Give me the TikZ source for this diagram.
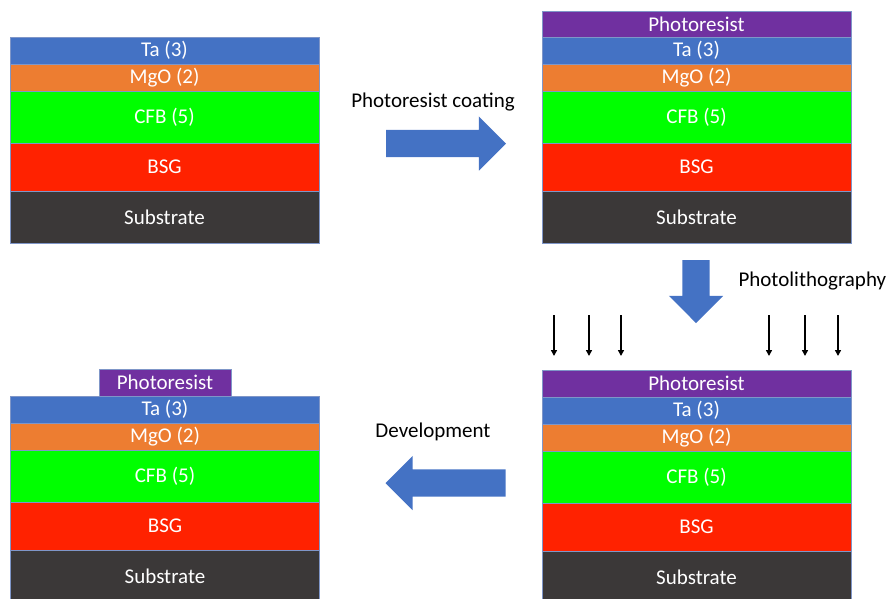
\documentclass[tikz,border=0pt]{standalone}
\usepackage{fontspec}
\setmainfont{Carlito}
\usetikzlibrary{positioning,shapes.arrows,arrows.meta}
\definecolor{taBlue}{HTML}{4472C4}
\definecolor{mgoOrange}{HTML}{ED7D31}
\definecolor{cfbGreen}{HTML}{00FF00}
\definecolor{bsgRed}{HTML}{FF2200}
\definecolor{subGray}{HTML}{3B3838}
\definecolor{resistPurple}{HTML}{7030A0}
\definecolor{layerEdge}{HTML}{7F96C8}

\begin{document}
\begin{tikzpicture}[
    x=1pt, y=-1pt,
    font=\fontsize{21}{25}\selectfont,
    node distance=0pt,
    layer/.style={draw=layerEdge, line width=0.6pt, rectangle, minimum width=309pt, inner sep=0pt, outer sep=0pt, text=white},
    ta/.style={layer, fill=taBlue, minimum height=27pt},
    mgo/.style={layer, fill=mgoOrange, minimum height=27pt},
    cfb/.style={layer, fill=cfbGreen, minimum height=52pt},
    bsg/.style={layer, fill=bsgRed, minimum height=48pt},
    sub/.style={layer, fill=subGray, minimum height=52pt},
    resist/.style={layer, fill=resistPurple, minimum height=26pt},
    blockarrow/.style={single arrow, fill=taBlue, draw=none, inner sep=13.5pt, outer sep=0pt, single arrow head extend=13.5pt, minimum height=120pt, anchor=tail},
    ray/.style={-{Triangle[width=6pt,length=6pt]}, line width=1.6pt}
]
    \clip (0,0) rectangle (892,598);
    \useasboundingbox (0,0) rectangle (892,598);

    % as deposited
    \node[ta, anchor=north] (ta1) at (164.5,37) {Ta (3)};
    \node[mgo, below=of ta1] (mgo1) {MgO (2)};
    \node[cfb, below=of mgo1] (cfb1) {CFB (5)};
    \node[bsg, below=of cfb1] (bsg1) {BSG};
    \node[sub, below=of bsg1] (sub1) {Substrate};

    % after coating
    \node[resist, anchor=north] (pr2) at (696.5,11) {Photoresist};
    \node[ta, below=of pr2] (ta2) {Ta (3)};
    \node[mgo, below=of ta2] (mgo2) {MgO (2)};
    \node[cfb, below=of mgo2] (cfb2) {CFB (5)};
    \node[bsg, below=of cfb2] (bsg2) {BSG};
    \node[sub, below=of bsg2] (sub2) {Substrate};

    % under exposure
    \node[resist, minimum height=27pt, anchor=north] (pr3) at (696.5,370) {Photoresist};
    \node[ta, below=of pr3] (ta3) {Ta (3)};
    \node[mgo, below=of ta3] (mgo3) {MgO (2)};
    \node[cfb, below=of mgo3] (cfb3) {CFB (5)};
    \node[bsg, below=of cfb3] (bsg3) {BSG};
    \node[sub, below=of bsg3] (sub3) {Substrate};

    % after development, only the masked part of the resist is left
    \node[resist, minimum height=27pt, minimum width=132pt, anchor=north] (pr4) at (165,369) {Photoresist};
    \node[ta, below=of pr4] (ta4) {Ta (3)};
    \node[mgo, below=of ta4] (mgo4) {MgO (2)};
    \node[cfb, below=of mgo4] (cfb4) {CFB (5)};
    \node[bsg, below=of cfb4] (bsg4) {BSG};
    \node[sub, below=of bsg4] (sub4) {Substrate};

    % process steps
    \node[blockarrow] (coat) at (386,143.5) {};
    \node (coatlbl) at (433,102) {Photoresist coating};

    \node[blockarrow, shape border rotate=270, minimum height=63pt] (litho) at (696,260) {};
    \node[anchor=west] (litholbl) at (735,281) {Photolithography};

    \node[blockarrow, shape border rotate=180] (develop) at (505.5,483) {};
    \node (developlbl) at (433,432) {Development};

    % UV light, blocked in the middle by the mask
    \foreach \x in {554,589,621,769,805,838}
        \draw[ray] (\x,315) -- (\x,356);
\end{tikzpicture}
\end{document}
